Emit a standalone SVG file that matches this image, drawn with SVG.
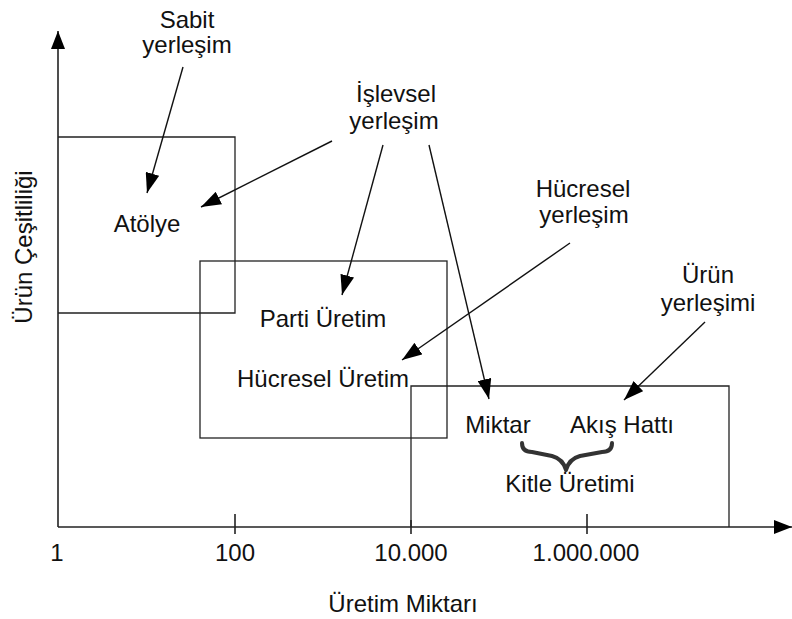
<svg xmlns="http://www.w3.org/2000/svg" width="792" height="619" viewBox="0 0 792 619">
<style>
text{font-family:"Liberation Sans",Arial,sans-serif;font-size:24px;fill:#111;text-anchor:middle}
.box{fill:none;stroke:#222;stroke-width:1.3}
.ax{fill:none;stroke:#222;stroke-width:1.6}
.arr{fill:none;stroke:#111;stroke-width:1.4;marker-end:url(#ah)}
.brace{fill:none;stroke:#333;stroke-width:4;stroke-linecap:round;stroke-linejoin:round}
</style>
<defs>
<marker id="ah" viewBox="0 0 20 14" refX="20" refY="7" markerWidth="20" markerHeight="14" markerUnits="userSpaceOnUse" orient="auto">
<path d="M0,0 L20,7 L0,14 z" fill="#000"/>
</marker>
<marker id="axh" viewBox="0 0 20 14" refX="20" refY="7" markerWidth="18" markerHeight="14" markerUnits="userSpaceOnUse" orient="auto" preserveAspectRatio="none">
<path d="M0,0 L20,7 L0,14 z" fill="#000"/>
</marker>
</defs>
<g id="axes">
<line class="ax" x1="58" y1="527" x2="58" y2="31" marker-end="url(#axh)"/>
<line class="ax" x1="58" y1="527" x2="792" y2="527" marker-end="url(#axh)"/>
<line class="ax" x1="235" y1="514" x2="235" y2="534"/>
<line class="ax" x1="587" y1="514" x2="587" y2="534"/>
<line class="ax" x1="411" y1="520" x2="411" y2="534"/>
<text x="57" y="561">1</text>
<text x="235" y="561">100</text>
<text x="411" y="561">10.000</text>
<text x="586" y="561">1.000.000</text>
<text x="403" y="612">Üretim Miktarı</text>
<text transform="translate(32,247) rotate(-90)">Ürün Çeşitliliği</text>
</g>
<g id="atolye">
<polyline class="box" points="58,137 235,137 235,313 58,313"/>
<text x="147" y="232">Atölye</text>
</g>
<g id="parti">
<rect class="box" x="200" y="261" width="247" height="177"/>
<text x="323" y="327">Parti Üretim</text>
<text x="323" y="387">Hücresel Üretim</text>
</g>
<g id="kitle">
<polyline class="box" points="411,527 411,386 729,386 729,527"/>
<text x="498" y="433">Miktar</text>
<text x="622" y="433">Akış Hattı</text>
<path class="brace" d="M522,443 Q522,452 532,452 L552,456 Q563,459 566,470 Q569,459 580,456 L602,452 Q612,452 612,443"/>
<text x="570" y="492">Kitle Üretimi</text>
</g>
<g id="sabit">
<text x="187" y="28">Sabit</text>
<text x="187" y="53">yerleşim</text>
</g>
<g id="islevsel">
<text x="396" y="102">İşlevsel</text>
<text x="394" y="129">yerleşim</text>
</g>
<g id="hucresel">
<text x="583" y="197">Hücresel</text>
<text x="584" y="223">yerleşim</text>
</g>
<g id="urun">
<text x="708" y="283">Ürün</text>
<text x="708" y="311">yerleşimi</text>
</g>
<g id="connectors">
<line class="arr" x1="183" y1="67" x2="147" y2="193"/>
<line class="arr" x1="332" y1="141" x2="201" y2="207"/>
<line class="arr" x1="383" y1="145" x2="342" y2="295"/>
<line class="arr" x1="429" y1="145" x2="489" y2="399"/>
<line class="arr" x1="570" y1="243" x2="402" y2="360"/>
<line class="arr" x1="705" y1="322" x2="624" y2="400"/>
</g>
</svg>
